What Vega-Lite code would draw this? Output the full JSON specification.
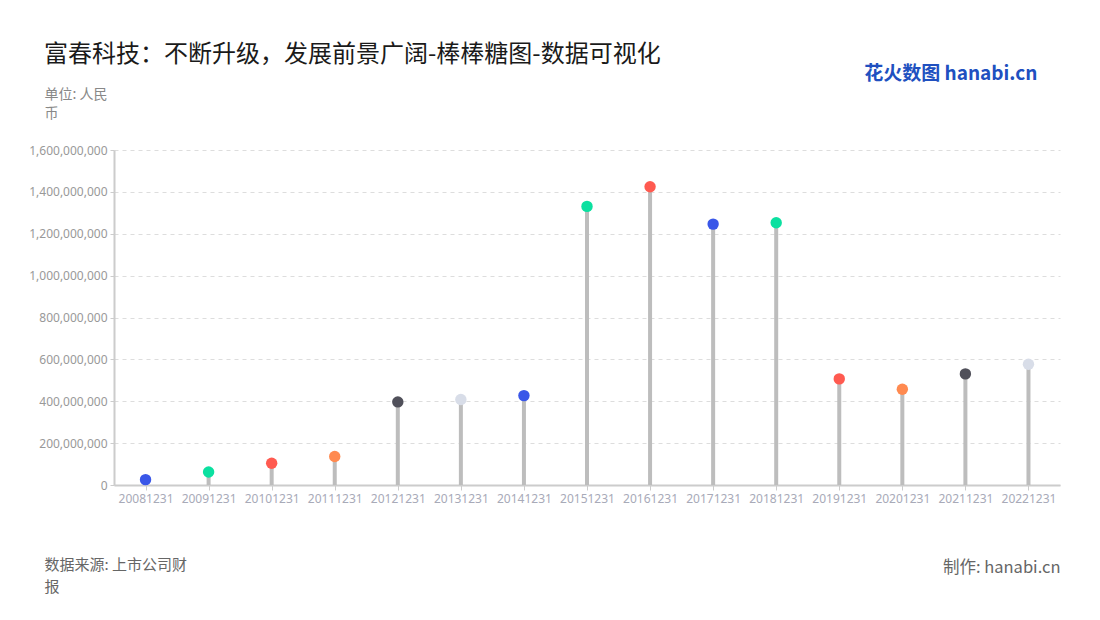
{
  "$schema": "https://vega.github.io/schema/vega-lite/v6.json",
  "width": 946,
  "height": 335,
  "autosize": {"type": "none"},
  "padding": {"left": 114, "top": 150, "right": 40, "bottom": 135},
  "background": "white",
  "title": {
    "text": "富春科技：不断升级，发展前景广阔-棒棒糖图-数据可视化",
    "anchor": "start",
    "frame": "group",
    "dx": -70,
    "dy": 7,
    "fontSize": 24,
    "fontWeight": "normal",
    "font": "Noto Sans CJK SC",
    "color": "#1a1a1a"
  },
  "config": {
    "view": {"stroke": null},
    "font": "Noto Sans CJK SC"
  },
  "data": {
    "values": [
      {"date": "20081231", "value": 25600000},
      {"date": "20091231", "value": 62400000},
      {"date": "20101231", "value": 104000000},
      {"date": "20111231", "value": 136000000},
      {"date": "20121231", "value": 396800000},
      {"date": "20131231", "value": 408000000},
      {"date": "20141231", "value": 427000000},
      {"date": "20151231", "value": 1330700000},
      {"date": "20161231", "value": 1424700000},
      {"date": "20171231", "value": 1246000000},
      {"date": "20181231", "value": 1252600000},
      {"date": "20191231", "value": 506800000},
      {"date": "20201231", "value": 457400000},
      {"date": "20211231", "value": 530700000},
      {"date": "20221231", "value": 576900000}
    ]
  },
  "layer": [
    {
      "mark": {"type": "rule", "color": "#BDBDBD", "strokeWidth": 4},
      "encoding": {
        "x": {
          "field": "date",
          "type": "nominal",
          "sort": null,
          "scale": {"type": "point", "padding": 0.5},
          "axis": {
            "orient": "bottom",
            "labelAngle": 0,
            "labelColor": "#A8AAB8",
            "labelFontSize": 12,
            "labelFont": "Noto Sans",
            "labelPadding": 3,
            "tickColor": "#CCCCCC",
            "tickSize": 5,
            "domainColor": "#CCCCCC",
            "domainWidth": 2,
            "grid": false,
            "title": ["数据来源: 上市公司财", "报"],
            "titleX": -70,
            "titleY": 72,
            "titleAlign": "left",
            "titleAnchor": null,
            "titleBaseline": "top",
            "titleFontSize": 15,
            "titleFontWeight": "normal",
            "titleColor": "#666666",
            "titleLineHeight": 22
          }
        },
        "y": {
          "field": "value",
          "type": "quantitative",
          "scale": {"domain": [0, 1600000000], "nice": false},
          "axis": {
            "orient": "left",
            "values": [0, 200000000, 400000000, 600000000, 800000000, 1000000000, 1200000000, 1400000000, 1600000000],
            "format": ",d",
            "labelColor": "#999999",
            "labelFontSize": 12,
            "labelFont": "Noto Sans",
            "labelPadding": 3,
            "tickColor": "#CCCCCC",
            "tickSize": 4,
            "domainColor": "#CCCCCC",
            "domainWidth": 2,
            "grid": true,
            "gridColor": "#DDDDDD",
            "gridDash": [4, 4],
            "title": ["单位: 人民", "币"],
            "titleAngle": 0,
            "titleX": -70,
            "titleY": -63,
            "titleAlign": "left",
            "titleBaseline": "top",
            "titleFontSize": 14,
            "titleFontWeight": "normal",
            "titleColor": "#888888",
            "titleLineHeight": 19
          }
        },
        "y2": {"datum": 0}
      }
    },
    {
      "mark": {"type": "circle", "size": 130, "opacity": 1},
      "encoding": {
        "x": {
          "field": "date",
          "type": "nominal",
          "sort": null,
          "scale": {"type": "point", "padding": 0.5},
          "axis": {
            "orient": "top",
            "labels": false,
            "ticks": false,
            "domain": false,
            "grid": false,
            "title": "花火数图 hanabi.cn",
            "titleX": 923,
            "titleY": -77,
            "titleAlign": "right",
            "titleBaseline": "middle",
            "titleFontSize": 19,
            "titleFontWeight": "bold",
            "titleColor": "#2050C0"
          }
        },
        "y": {
          "field": "value",
          "type": "quantitative",
          "scale": {"domain": [0, 1600000000], "nice": false},
          "axis": {
            "orient": "right",
            "labels": false,
            "ticks": false,
            "domain": false,
            "grid": false,
            "title": "制作: hanabi.cn",
            "titleAngle": 0,
            "titleX": 0,
            "titleY": 417,
            "titleAlign": "right",
            "titleBaseline": "middle",
            "titleFontSize": 16.5,
            "titleFontWeight": "normal",
            "titleColor": "#666666"
          }
        },
        "color": {
          "field": "date",
          "type": "nominal",
          "legend": null,
          "scale": {
            "domain": ["20081231", "20091231", "20101231", "20111231", "20121231", "20131231", "20141231", "20151231", "20161231", "20171231", "20181231", "20191231", "20201231", "20211231", "20221231"],
            "range": ["#3A57E8", "#0BE0A0", "#FF5A50", "#FF8A50", "#50505A", "#D8DDE8", "#3A57E8", "#0BE0A0", "#FF5A50", "#3A57E8", "#0BE0A0", "#FF5A50", "#FF8A50", "#50505A", "#D8DDE8"]
          }
        }
      }
    }
  ],
  "resolve": {"axis": {"x": "independent", "y": "independent"}}
}
